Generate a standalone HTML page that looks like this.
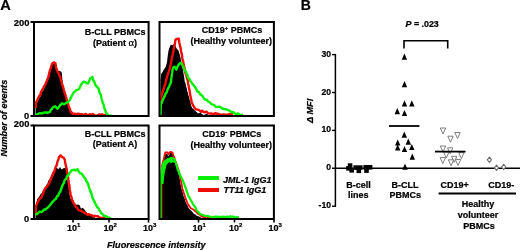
<!DOCTYPE html>
<html><head><meta charset="utf-8"><title>Figure</title>
<style>
html,body{margin:0;padding:0;background:#fff;}
body{width:520px;height:250px;overflow:hidden;}
svg{display:block;font-family:"Liberation Sans",sans-serif;will-change:transform;}
text{stroke:#000;stroke-width:0.22px;}
</style></head>
<body>
<svg width="520" height="250" viewBox="0 0 520 250">
<rect width="520" height="250" fill="#fff"/>
<text x="0.3" y="10.2" font-size="14.6" font-weight="bold">A</text>
<text x="300.8" y="10.2" font-size="14" font-weight="bold">B</text>
<defs><clipPath id="c1"><rect x="34" y="22" width="115" height="94"/></clipPath><clipPath id="c2"><rect x="159.5" y="22" width="115" height="94"/></clipPath><clipPath id="c3"><rect x="34" y="125.5" width="115" height="93.5"/></clipPath><clipPath id="c4"><rect x="159.5" y="125.5" width="115" height="93.5"/></clipPath></defs>
<g clip-path="url(#c1)">
<polygon points="35.5,117.0 35.5,115.3 35.5,113.6 35.5,113.1 35.5,110.7 35.5,110.2 35.5,108.5 35.5,106.6 35.5,106.0 36.3,103.5 37.2,102.5 38.0,100.2 38.8,98.6 39.7,97.5 40.5,96.6 41.2,93.7 41.9,92.2 42.6,91.2 43.4,90.3 44.2,88.1 45.0,86.3 45.7,85.9 46.3,82.7 47.0,82.6 47.5,80.0 48.0,78.0 48.5,76.3 49.0,75.2 49.5,74.6 50.0,71.9 50.3,71.3 50.7,70.1 51.0,68.3 51.5,67.3 51.9,65.0 52.4,63.7 54.0,63.5 55.5,65.3 55.8,66.2 56.2,67.3 56.5,69.2 58.0,70.9 59.8,70.9 61.5,72.0 61.7,73.2 61.9,73.8 62.0,75.8 62.2,77.0 62.3,79.1 62.4,80.2 62.6,80.8 62.7,83.5 62.8,83.3 63.2,85.5 63.6,87.8 64.0,88.4 64.4,90.5 64.8,91.2 65.1,93.8 65.5,95.5 65.9,96.5 66.3,98.5 66.7,98.9 67.1,101.0 67.5,102.2 68.0,103.6 68.5,104.9 69.0,107.1 69.5,108.8 70.3,109.3 71.2,111.0 72.0,111.2 73.3,113.0 74.7,113.6 76.0,114.9 77.5,115.1 79.0,114.6 80.5,115.3 82.0,116.3 82.0,117.0" fill="#000"/>
<polyline points="35.8,108.0 35.8,105.9 35.8,105.3 35.8,103.5 36.3,102.1 36.9,100.6 37.4,100.4 38.2,97.9 38.9,96.7 39.7,95.4 40.4,94.7 41.0,91.9 41.7,90.9 42.5,89.4 43.2,88.3 44.0,86.5 45.5,84.4 46.3,81.8 47.1,80.5 47.6,78.8 48.0,78.1 48.5,76.7 49.0,73.7 49.5,72.0 49.9,70.7 50.2,69.4 50.6,68.5 51.1,67.3 51.5,65.5 52.0,63.7 53.8,62.4 55.4,63.3 55.7,65.0 56.0,67.0 56.2,67.9 56.5,69.0 57.2,70.7 57.8,72.3 58.5,72.8 59.4,75.6 60.2,76.9 60.6,78.8 61.0,80.5 61.3,81.2 61.7,82.5 62.0,83.4 62.4,85.5 62.8,86.0 63.2,87.3 63.7,89.3 64.2,91.1 64.6,92.7 65.0,93.5 65.4,94.8 65.8,96.3 66.2,97.5 66.6,99.3 67.0,100.0 67.4,102.7 67.8,103.6 68.2,104.1 68.6,105.6 69.1,107.1 69.6,108.5 70.1,109.4 70.6,112.0 73.0,114.2 74.7,113.7 76.3,114.1 78.0,113.8 79.3,113.9 80.7,114.3 82.0,114.2 83.3,115.2 84.7,114.1 86.0,113.9 87.3,115.5 88.7,114.8 90.0,114.2 91.3,114.9 92.7,114.0 94.0,114.8 95.3,115.6 96.7,115.4 98.0,115.1 99.3,114.4 100.7,114.6 102.0,114.3 103.3,115.2 104.7,114.9 106.0,114.8" fill="none" stroke="#ee0c06" stroke-width="2.4" stroke-linejoin="round"/>
<polyline points="35.0,114.6 36.7,114.7 38.3,113.7 40.0,113.2 41.3,113.5 42.7,113.2 44.0,112.4 45.8,112.5 47.5,112.8 50.0,111.8 51.0,109.6 52.0,108.8 53.0,107.2 55.0,106.2 57.5,108.8 58.8,107.3 60.0,105.3 61.0,104.5 62.0,103.3 64.0,104.3 66.4,102.9 68.0,101.8 70.0,99.9 70.9,97.5 71.8,95.8 72.7,94.3 73.6,92.7 76.0,90.3 77.5,89.8 79.0,89.0 79.8,87.6 80.5,85.7 81.2,84.6 82.0,83.5 83.5,81.7 85.0,82.1 86.5,83.1 88.0,83.5 88.8,82.1 89.5,80.3 90.2,78.4 91.0,78.1 92.3,76.9 92.9,79.2 93.6,81.1 94.1,81.4 94.7,82.7 95.2,84.9 96.9,86.7 97.5,87.1 98.2,88.3 98.8,89.6 99.5,92.4 100.1,93.9 100.8,94.4 101.2,97.1 101.6,98.8 101.9,99.9 102.3,100.9 102.7,102.8 103.2,103.6 103.7,104.8 104.1,107.8 104.6,108.7 105.2,110.1 105.9,112.4 106.5,113.2 108.5,115.6 110.2,115.7 112.0,115.3" fill="none" stroke="#06f006" stroke-width="2.4" stroke-linejoin="round"/>
</g>
<g clip-path="url(#c2)">
<polygon points="160.5,117.0 160.5,115.2 160.5,113.9 160.5,112.7 160.5,111.2 160.5,110.5 160.5,108.6 160.5,107.6 160.5,105.8 160.5,105.8 160.5,103.5 160.5,102.4 160.5,101.3 160.5,100.5 160.5,98.4 160.5,97.9 160.5,95.9 160.5,94.6 160.5,93.3 160.5,91.0 160.5,90.5 160.5,88.7 160.5,87.0 160.5,87.1 160.5,84.7 160.5,83.9 160.5,83.0 160.5,81.4 160.5,79.7 160.7,78.6 160.8,77.3 161.0,76.3 161.2,73.7 162.0,72.9 163.6,69.9 165.2,67.6 165.7,66.9 166.3,64.8 166.8,63.3 167.0,62.1 167.2,60.7 167.4,58.3 167.6,57.0 167.8,55.4 168.0,54.0 168.2,52.9 168.4,51.1 168.8,49.7 169.2,48.0 169.7,47.5 170.3,45.7 170.8,44.7 172.5,45.3 174.5,43.6 175.5,45.9 176.5,48.3 177.3,49.6 178.0,49.8 178.8,51.3 179.3,53.6 179.7,54.6 180.2,56.5 180.6,57.9 181.0,60.6 181.4,62.5 181.7,64.4 182.1,64.7 182.4,67.4 182.7,69.0 183.1,69.7 183.4,72.7 183.6,74.2 183.8,74.3 184.0,77.0 184.2,77.4 184.4,79.0 184.7,81.3 185.0,82.4 185.4,82.6 185.7,84.5 186.0,86.0 186.3,87.0 186.7,88.1 187.0,89.7 187.3,91.7 187.7,91.8 188.0,94.1 188.4,95.3 188.8,95.9 189.2,97.9 189.6,99.8 190.0,101.0 190.5,101.9 191.0,105.2 191.5,106.5 192.4,108.5 193.3,108.7 195.0,110.7 196.7,112.0 198.0,113.6 199.3,113.0 200.7,113.0 202.0,113.9 203.3,114.9 204.7,114.8 206.0,114.0 207.3,113.9 208.7,115.4 210.0,114.9 211.5,115.5 213.0,114.7 214.5,114.9 216.0,116.3 216.0,117.0" fill="#000"/>
<polyline points="160.8,101.0 160.9,99.5 161.0,97.6 161.1,97.7 161.5,95.9 162.0,94.8 162.4,92.3 162.8,92.2 163.3,89.6 163.7,89.6 164.1,87.6 164.5,86.0 164.9,85.0 165.3,84.2 165.7,81.8 166.1,80.2 166.4,79.4 166.8,77.6 167.3,76.0 167.7,74.8 168.2,73.3 168.6,72.2 169.0,71.0 169.4,69.7 169.8,68.7 170.2,66.3 170.6,65.0 170.9,62.8 171.3,61.4 171.6,59.2 171.9,58.3 172.1,56.6 172.4,56.4 172.7,54.7 172.9,52.8 173.2,52.0 173.5,51.4 173.7,48.7 174.0,48.5 174.3,46.6 174.5,45.3 174.8,44.5 175.1,42.2 175.3,40.7 175.6,39.3 177.0,39.0 178.8,38.7 179.1,41.2 179.3,42.7 179.6,44.2 179.9,45.2 180.1,46.4 180.4,47.3 180.7,48.7 180.9,50.0 181.2,52.4 181.5,52.9 181.7,54.1 182.0,55.3 182.3,57.9 182.5,59.3 182.8,60.3 183.1,61.0 183.3,62.3 183.6,63.7 183.9,65.3 184.1,66.1 184.4,67.9 184.8,69.2 185.2,71.9 185.6,73.6 186.0,74.5 186.4,75.4 186.8,77.9 187.1,78.3 187.5,79.8 187.8,80.5 188.0,82.5 188.2,84.0 188.5,85.3 188.8,86.2 189.0,88.0 189.2,88.7 189.5,90.6 189.8,91.8 190.0,93.8 190.2,94.8 190.5,96.2 190.9,98.2 191.2,99.6 191.6,101.6 192.0,103.0 192.8,104.9 193.7,106.3 194.5,107.8 196.0,109.3 197.5,109.6 199.2,110.1 201.0,111.8 202.3,110.8 203.7,112.0 205.0,112.2 206.5,111.6 208.0,113.2 209.5,113.6 211.0,113.5 212.5,113.8 214.0,114.0 215.5,113.1 217.0,113.8 218.5,113.9 220.0,114.5 221.3,114.6 222.6,114.7 223.9,114.3 225.2,114.9 226.5,114.6 227.8,114.7 229.1,114.1 230.4,113.8 231.7,114.0 233.0,114.7" fill="none" stroke="#ee0c06" stroke-width="2.4" stroke-linejoin="round"/>
<polyline points="160.5,117.0 160.5,115.3 160.5,113.3 160.6,113.0 160.6,111.0 160.6,109.6 160.7,108.3 160.8,107.1 160.9,105.5 161.0,103.4 161.7,103.0 162.3,101.2 163.2,99.1 164.0,97.5 164.8,95.9 165.7,93.2 166.6,92.6 167.4,90.1 168.3,88.1 168.8,87.0 169.3,86.4 169.9,84.2 170.4,83.7 170.9,82.7 171.1,80.6 171.2,79.1 171.4,77.9 171.5,76.9 171.7,75.7 171.8,74.2 172.2,72.7 172.5,70.3 172.8,68.9 173.2,67.6 174.8,66.8 175.6,67.7 176.4,69.7 177.2,67.2 178.0,65.7 179.6,63.6 181.2,62.7 182.0,64.3 182.8,65.9 183.3,66.6 183.9,68.3 184.4,69.5 185.2,70.9 186.0,71.7 186.8,74.2 187.4,74.5 187.9,77.1 188.4,78.3 189.0,78.2 190.3,80.6 191.7,82.8 193.0,84.7 194.0,85.6 195.0,87.0 196.0,88.5 197.3,91.4 198.7,91.9 200.0,94.1 201.7,95.1 203.3,97.4 205.0,99.7 206.5,99.4 208.0,101.5 209.5,102.1 211.0,103.8 212.6,104.6 214.2,104.9 215.8,107.0 217.4,106.9 219.0,106.7 220.6,107.2 222.2,108.5 223.8,109.0 225.4,109.3 227.0,109.6 228.6,110.4 230.2,110.9 231.8,112.5 233.4,112.0 235.0,113.6 236.6,114.1 238.2,113.4 239.8,114.9 241.4,114.9 243.0,114.8" fill="none" stroke="#06f006" stroke-width="2.4" stroke-linejoin="round"/>
</g>
<g clip-path="url(#c3)">
<polygon points="35.5,220.0 35.5,219.4 35.5,217.0 35.5,215.9 35.5,214.6 35.5,214.4 35.5,212.4 35.5,210.6 35.5,209.5 35.5,207.9 35.5,206.2 35.8,204.9 36.1,204.8 36.4,202.4 36.7,202.2 37.0,199.5 38.0,198.1 39.0,197.0 40.0,194.9 40.8,193.8 41.7,193.3 42.5,191.7 43.3,190.2 44.2,188.6 45.0,187.7 45.8,186.5 46.7,184.4 47.5,183.4 48.3,180.5 49.2,180.1 50.0,177.9 50.7,177.1 51.3,175.6 52.0,173.6 53.0,171.4 54.0,171.3 55.6,168.3 57.0,167.9 58.5,169.2 60.0,167.1 61.5,169.4 63.0,168.4 64.5,168.1 66.0,168.3 66.3,169.0 66.5,170.8 66.8,171.8 66.9,172.7 67.1,174.1 67.2,175.5 67.3,178.1 67.5,178.7 67.6,179.5 67.8,182.1 68.0,183.7 68.1,184.1 68.3,185.0 68.5,186.4 68.7,187.7 68.9,189.5 69.1,190.5 69.3,192.1 69.5,193.6 69.9,195.5 70.2,197.4 70.6,198.6 71.0,199.3 72.0,201.1 73.0,203.0 74.5,203.8 76.0,204.7 77.8,204.5 79.5,205.1 81.0,208.8 82.5,207.8 84.0,209.0 86.0,211.7 88.0,213.7 89.3,213.5 90.7,214.6 92.0,215.5 93.3,216.5 94.7,217.2 96.0,218.8 96.0,220.0" fill="#000"/>
<polyline points="35.8,213.0 35.8,212.2 35.8,210.8 35.8,208.0 35.8,206.7 35.8,206.3 36.5,205.1 37.3,203.0 38.0,201.6 39.2,199.2 40.5,198.3 41.1,197.8 41.8,196.3 42.4,194.9 43.0,193.8 43.8,191.1 44.7,189.4 45.5,187.9 46.5,187.0 47.5,185.8 48.5,184.7 49.2,183.0 49.8,181.6 50.5,180.4 51.1,178.6 51.6,177.4 52.2,175.3 52.8,175.1 53.4,172.9 54.0,172.7 54.5,170.9 55.0,169.0 55.5,167.4 56.0,166.3 56.5,165.6 57.0,164.3 57.4,162.0 57.8,160.6 58.2,160.0 58.6,158.8 59.0,157.1 60.6,155.4 62.3,157.2 63.5,157.7 64.8,159.7 65.0,161.3 65.3,163.5 65.6,164.4 65.9,166.2 66.2,167.0 66.5,168.0 66.8,169.4 67.0,171.9 67.3,172.9 67.6,173.7 67.8,174.6 68.0,176.7 68.2,178.3 68.3,179.2 68.5,180.3 68.7,182.3 68.9,184.2 69.2,184.6 69.4,185.8 69.6,187.7 69.8,189.4 70.1,191.3 70.3,192.0 70.6,194.5 70.9,195.8 71.3,196.8 71.7,197.7 72.0,200.3 72.7,200.6 73.3,202.8 73.9,203.2 74.6,204.6 75.9,206.9 77.2,207.7 78.5,210.2 80.0,210.4 81.5,210.9 83.0,211.9 84.5,212.8 86.0,213.8 87.5,214.9 89.0,214.2 90.4,215.0 91.8,215.1 93.2,216.8 94.6,215.8 96.0,216.1 97.4,216.2 98.9,216.9 100.3,217.8 101.7,217.9 103.1,217.7 104.6,218.3 106.0,217.6" fill="none" stroke="#ee0c06" stroke-width="2.4" stroke-linejoin="round"/>
<polyline points="35.5,214.2 37.0,214.2 38.5,212.5 40.0,211.5 41.3,212.1 42.7,211.2 44.0,209.5 45.3,209.6 46.7,208.3 48.0,207.4 49.5,205.8 51.0,204.0 52.0,202.4 53.0,201.4 54.5,199.7 56.0,198.7 57.0,196.1 58.0,196.1 59.0,193.5 59.6,192.4 60.2,191.7 60.8,190.3 61.4,188.3 62.0,186.3 62.6,185.5 63.2,183.8 63.9,183.2 64.5,180.5 65.3,179.4 66.2,179.0 67.0,176.2 67.8,175.5 68.6,174.8 69.4,173.4 71.8,170.3 73.3,170.0 74.8,169.8 76.1,170.6 77.4,169.0 78.6,171.3 79.8,173.0 81.2,173.5 82.6,174.8 84.0,177.3 84.8,178.1 85.5,178.9 86.2,181.0 87.0,181.7 87.6,183.1 88.2,184.2 88.9,186.9 89.5,188.7 90.0,189.9 90.5,192.0 91.0,192.2 91.5,193.9 92.0,195.6 92.5,197.7 93.1,199.4 93.8,200.2 94.4,201.6 95.3,203.4 96.2,205.0 97.1,207.2 98.0,207.5 99.2,210.1 100.4,211.6 101.6,213.3 103.0,214.7 104.5,216.0 106.0,216.3 107.5,217.1 109.2,217.6 111.0,218.3" fill="none" stroke="#06f006" stroke-width="2.4" stroke-linejoin="round"/>
</g>
<g clip-path="url(#c4)">
<polygon points="161.0,220.0 161.0,219.0 161.0,216.8 161.0,215.6 161.0,215.0 161.0,213.0 161.0,211.5 161.0,210.1 161.0,209.4 161.0,207.8 161.0,207.2 161.0,205.8 161.0,204.6 161.0,202.4 161.0,200.8 161.0,199.5 161.0,198.7 161.0,197.6 161.0,195.9 161.0,194.3 161.0,193.2 161.0,192.1 161.0,190.9 161.0,189.6 161.0,188.4 161.0,186.9 161.0,184.9 161.0,184.4 161.0,182.4 161.0,181.4 161.0,179.8 161.0,179.0 161.0,177.0 161.0,175.7 161.0,174.4 161.0,172.9 161.0,172.5 161.2,170.6 161.5,168.8 161.8,167.4 162.0,166.6 162.3,164.3 162.7,162.3 163.0,161.4 163.5,159.9 163.9,158.9 164.4,156.5 164.9,155.2 165.5,153.9 167.3,153.9 168.5,156.5 170.0,152.9 172.2,153.3 173.2,155.5 173.6,157.0 174.1,159.2 174.5,160.1 175.0,162.0 175.5,162.8 176.0,164.9 176.5,165.9 176.9,167.2 177.3,169.3 177.8,171.0 178.2,171.5 178.6,173.6 178.8,174.9 179.1,175.8 179.3,177.2 179.6,178.3 179.8,179.6 180.1,181.1 180.3,182.9 180.6,184.4 180.9,185.2 181.1,186.4 181.4,188.2 181.8,190.0 182.2,190.8 182.7,192.4 183.1,193.6 183.5,195.8 183.9,196.9 184.4,197.6 184.8,199.0 185.3,200.7 185.7,202.2 186.2,203.7 187.0,204.5 187.8,206.0 188.7,208.2 189.5,209.3 191.0,210.5 192.5,212.0 194.0,214.1 195.5,214.6 197.0,216.1 198.5,216.3 200.0,216.9 201.5,217.9 203.0,218.6 203.0,220.0" fill="#000"/>
<polyline points="161.5,219.0 161.5,217.5 161.5,216.0 161.5,215.2 161.5,213.4 161.5,211.8 161.5,211.4 161.5,209.6 161.5,208.7 161.5,206.9 161.5,206.0 161.5,204.3 161.5,202.7 161.5,201.2 161.5,200.4 161.5,199.1 161.5,198.1 161.5,195.9 161.5,195.1 161.5,193.5 161.5,192.3 161.5,190.6 161.5,189.4 161.5,188.4 161.5,187.4 161.5,185.3 161.5,184.3 161.5,183.3 161.5,182.1 161.5,180.0 161.5,178.6 161.5,178.1 161.5,176.8 161.5,175.0 161.6,173.2 161.6,172.8 161.7,170.9 161.8,170.1 161.9,168.5 161.9,167.4 162.0,165.5 162.4,164.5 162.8,162.3 163.2,160.9 163.6,159.7 164.0,158.1 164.4,155.9 164.8,154.1 165.2,152.5 167.6,152.3 168.5,154.4 170.0,151.9 172.4,152.3 173.2,154.8 173.7,156.6 174.3,157.3 174.8,159.5 175.4,161.3 176.0,162.1 176.6,164.5 177.2,165.4 177.6,167.2 178.0,168.5 178.4,169.9 178.8,170.9 179.2,172.4 179.6,173.9 179.9,175.3 180.1,177.1 180.4,178.4 180.7,179.9 181.0,180.9 181.3,182.9 181.6,184.2 181.8,185.3 182.1,187.3 182.4,188.7 182.8,189.8 183.2,190.9 183.7,192.6 184.1,193.6 184.5,195.0 184.9,196.7 185.4,197.7 185.9,199.4 186.4,200.8 186.9,201.7 187.4,203.6 188.5,204.6 189.7,206.7 190.8,208.3 192.2,209.0 193.6,209.6 195.0,211.0 196.5,212.1 198.0,214.0 200.0,214.9 201.3,216.2 202.7,216.8 204.0,217.0 205.3,217.2 206.7,216.7 208.0,217.6 209.3,217.2 210.7,217.8 212.0,217.4" fill="none" stroke="#ee0c06" stroke-width="1.8" stroke-linejoin="round"/>
<polygon points="161.5,184.0 161.6,183.0 161.6,180.9 161.7,180.1 161.7,178.8 161.8,176.6 161.8,175.5 161.8,174.5 161.9,172.5 161.9,171.8 162.0,169.8 162.3,168.9 162.6,166.8 162.9,165.8 163.2,164.8 163.5,162.7 164.5,161.3 165.5,160.0 168.0,158.8 169.5,158.3 171.0,158.2 173.5,159.7 174.5,162.9 172.5,162.2 171.0,163.4 169.5,161.7 168.0,163.3 166.5,165.1 166.1,166.9 165.8,168.4 165.4,169.5 165.0,171.4 164.8,172.5 164.6,173.9 164.4,175.6 164.2,176.2 164.0,178.5 163.9,179.6 163.8,180.9 163.6,182.8 163.5,184.0" fill="#06f006"/>
<polyline points="160.6,219.0 160.6,217.5 160.6,216.9 160.6,215.2 160.6,213.6 160.6,212.7 160.6,211.1 160.6,209.5 160.6,208.8 160.6,206.8 160.6,206.2 160.6,204.4 160.6,203.4 160.6,202.5 160.6,200.8 160.6,199.5 160.6,197.9 160.6,196.3 160.6,195.0 160.6,193.8 160.6,193.0 160.6,191.5 160.6,190.2 160.6,189.3 160.6,187.2 160.6,186.0 160.6,185.2 160.7,183.2 160.8,181.8 160.9,180.9 161.0,179.3 161.1,178.2 161.2,176.7 161.3,175.8 161.5,174.4 161.6,172.7 161.7,171.8 161.9,170.3 162.0,168.6 162.3,168.1 162.7,166.1 163.0,164.6 163.8,162.8 164.5,161.6 166.0,160.4 168.0,159.3 170.0,158.4 172.0,158.0 174.0,158.7 174.9,161.0 175.8,162.7 176.2,164.1 176.7,165.9 177.2,167.3 177.6,169.4 178.2,170.8 178.9,171.9 179.5,174.2 180.2,174.9 181.1,177.1 181.9,178.7 182.8,180.2 183.3,181.4 183.8,183.4 184.3,184.0 184.8,185.8 185.3,187.5 185.8,188.0 186.3,189.6 186.8,191.5 187.4,193.0 187.9,194.6 188.4,196.3 189.2,197.1 190.0,198.7 190.8,200.2 191.6,201.3 192.7,203.8 193.7,205.2 194.8,206.7 195.5,207.3 196.3,209.5 197.0,210.7 198.5,212.1 200.0,214.0 201.3,214.5 202.7,215.0 204.0,215.6 205.5,215.9 207.0,215.8 208.5,216.3 210.0,216.8 211.4,216.8 212.9,217.0 214.3,216.9 215.7,216.5 217.1,216.8 218.6,216.7 220.0,217.1 221.4,216.8 222.9,216.6 224.3,216.9 225.7,217.3 227.1,216.5 228.6,217.2 230.0,216.3 231.5,216.6 232.9,216.6 234.4,217.1 235.9,217.4 237.3,217.2 238.8,217.0" fill="none" stroke="#06f006" stroke-width="2.2" stroke-linejoin="round"/>
</g>
<rect x="34" y="22" width="114.6" height="94" fill="none" stroke="#000" stroke-width="2"/>
<rect x="159.5" y="22" width="114.4" height="94" fill="none" stroke="#000" stroke-width="2"/>
<rect x="34" y="125.5" width="114.6" height="93.5" fill="none" stroke="#000" stroke-width="2"/>
<rect x="159.5" y="125.5" width="114.4" height="93.5" fill="none" stroke="#000" stroke-width="2"/>
<line x1="30.5" y1="22" x2="34" y2="22" stroke="#000" stroke-width="2"/>
<line x1="30.5" y1="116" x2="34" y2="116" stroke="#000" stroke-width="2"/>
<line x1="30.5" y1="125.5" x2="34" y2="125.5" stroke="#000" stroke-width="2"/>
<line x1="30.5" y1="219" x2="34" y2="219" stroke="#000" stroke-width="2"/>
<line x1="73" y1="219" x2="73" y2="222.5" stroke="#000" stroke-width="1.6"/>
<line x1="109" y1="219" x2="109" y2="222.5" stroke="#000" stroke-width="1.6"/>
<line x1="148.5" y1="219" x2="148.5" y2="222.5" stroke="#000" stroke-width="1.6"/>
<line x1="198.5" y1="219" x2="198.5" y2="222.5" stroke="#000" stroke-width="1.6"/>
<line x1="234.5" y1="219" x2="234.5" y2="222.5" stroke="#000" stroke-width="1.6"/>
<line x1="274.0" y1="219" x2="274.0" y2="222.5" stroke="#000" stroke-width="1.6"/>
<g font-size="9.4" font-weight="bold" text-anchor="end">
<text x="29.5" y="26">200</text>
<text x="29.1" y="119.2">0</text>
<text x="29.5" y="127.3">200</text>
<text x="29.1" y="221.5">0</text>
</g>
<text x="67" y="231" font-size="9" font-weight="bold">10<tspan font-size="6" dy="-3.6">1</tspan></text>
<text x="103.5" y="231" font-size="9" font-weight="bold">10<tspan font-size="6" dy="-3.6">2</tspan></text>
<text x="143" y="231" font-size="9" font-weight="bold">10<tspan font-size="6" dy="-3.6">3</tspan></text>
<text x="192.5" y="231" font-size="9" font-weight="bold">10<tspan font-size="6" dy="-3.6">1</tspan></text>
<text x="229.0" y="231" font-size="9" font-weight="bold">10<tspan font-size="6" dy="-3.6">2</tspan></text>
<text x="268.5" y="231" font-size="9" font-weight="bold">10<tspan font-size="6" dy="-3.6">3</tspan></text>
<text x="107" y="247.6" font-size="9.1" font-weight="bold" font-style="italic">Fluorescence intensity</text>
<text transform="translate(7.2,156.6) rotate(-90)" font-size="9.1" font-weight="bold" font-style="italic">Number of events</text>
<g font-size="9" font-weight="bold" text-anchor="middle">
<text x="115.2" y="35.3">B-CLL PBMCs</text>
<text x="115" y="45.5">(Patient <tspan font-family="Liberation Serif" font-weight="normal" font-size="10.5">α</tspan>)</text>
<text x="115.2" y="136.9">B-CLL PBMCs</text>
<text x="115" y="147.3">(Patient A)</text>
<text x="232.1" y="33.3">CD19<tspan font-size="6" dy="-3.5">+</tspan><tspan dy="3.5"> PBMCs</tspan></text>
<text x="231.3" y="44">(Healthy volunteer)</text>
<text x="231.8" y="137.2">CD19<tspan font-size="6" dy="-2.8">-</tspan><tspan dy="2.8"> PBMCs</tspan></text>
<text x="231.3" y="147.6">(Healthy volunteer)</text>
</g>
<rect x="198" y="176" width="21" height="4" fill="#06f006"/>
<rect x="198" y="188" width="21" height="4" fill="#ee0c06"/>
<text x="223" y="182.6" font-size="9" font-weight="bold" font-style="italic">JML-1 IgG1</text>
<text x="223.5" y="193.2" font-size="9" font-weight="bold" font-style="italic">TT11 IgG1</text>
<line x1="335.4" y1="54" x2="335.4" y2="206.7" stroke="#000" stroke-width="1.5"/>
<line x1="332" y1="54.6" x2="336" y2="54.6" stroke="#000" stroke-width="1.4"/>
<line x1="332" y1="92.5" x2="336" y2="92.5" stroke="#000" stroke-width="1.4"/>
<line x1="332" y1="130.4" x2="336" y2="130.4" stroke="#000" stroke-width="1.4"/>
<line x1="332" y1="206.2" x2="336" y2="206.2" stroke="#000" stroke-width="1.4"/>
<line x1="332" y1="168.3" x2="520" y2="168.3" stroke="#000" stroke-width="1.6"/>
<g font-size="8.6" font-weight="bold" text-anchor="end">
<text x="331" y="56.6">30</text>
<text x="331" y="94.5">20</text>
<text x="331" y="132.4">10</text>
<text x="331" y="170.3">0</text>
<text x="331" y="208.2">-10</text>
</g>
<text transform="translate(312.6,123) rotate(-90)" font-size="9.2" font-weight="bold" font-style="italic">Δ MFI</text>
<text x="405.5" y="26.6" font-size="8.9" font-weight="bold"><tspan font-style="italic">P</tspan> = .023</text>
<polyline points="404,48.5 404,40.8 447.7,40.8 447.7,48.5" fill="none" stroke="#000" stroke-width="1.6"/>
<rect x="346.2" y="166" width="4.6" height="4.6" fill="#000"/>
<rect x="347.8" y="163.3" width="4.6" height="4.6" fill="#000"/>
<rect x="349.4" y="168" width="4.6" height="4.6" fill="#000"/>
<rect x="353.4" y="165.3" width="4.6" height="4.6" fill="#000"/>
<rect x="356.5" y="168.5" width="4.6" height="4.6" fill="#000"/>
<rect x="358" y="165.3" width="4.6" height="4.6" fill="#000"/>
<rect x="363.4" y="165" width="4.6" height="4.6" fill="#000"/>
<rect x="364.2" y="168.3" width="4.6" height="4.6" fill="#000"/>
<rect x="367.8" y="165" width="4.6" height="4.6" fill="#000"/>
<polygon points="401.7,59.7 407.1,59.7 404.4,53.5" fill="#000"/>
<polygon points="401.8,87.3 407.2,87.3 404.5,81.1" fill="#000"/>
<polygon points="401.8,106.4 407.2,106.4 404.5,100.2" fill="#000"/>
<polygon points="409.1,106.4 414.5,106.4 411.8,100.2" fill="#000"/>
<polygon points="394.6,114.3 400.0,114.3 397.3,108.1" fill="#000"/>
<polygon points="401.8,116.1 407.2,116.1 404.5,109.9" fill="#000"/>
<polygon points="401.6,137.8 407.0,137.8 404.3,131.6" fill="#000"/>
<polygon points="405.6,144.7 411.0,144.7 408.3,138.5" fill="#000"/>
<polygon points="395.0,145.6 400.4,145.6 397.7,139.4" fill="#000"/>
<polygon points="395.0,150.4 400.4,150.4 397.7,144.2" fill="#000"/>
<polygon points="409.1,150.1 414.5,150.1 411.8,143.9" fill="#000"/>
<polygon points="401.8,152.1 407.2,152.1 404.5,145.9" fill="#000"/>
<polygon points="409.6,159.8 415.0,159.8 412.3,153.6" fill="#000"/>
<polygon points="402.3,169.8 407.7,169.8 405.0,163.6" fill="#000"/>
<line x1="389" y1="126" x2="419.4" y2="126" stroke="#000" stroke-width="1.8"/>
<polygon points="440.3,128.0 445.7,128.0 443.0,134.0" fill="#fff" stroke="#707070" stroke-width="0.9"/>
<polygon points="454.8,132.5 460.2,132.5 457.5,138.5" fill="#fff" stroke="#707070" stroke-width="0.9"/>
<polygon points="447.8,136.2 453.2,136.2 450.5,142.2" fill="#fff" stroke="#707070" stroke-width="0.9"/>
<polygon points="440.3,146.0 445.7,146.0 443.0,152.0" fill="#fff" stroke="#707070" stroke-width="0.9"/>
<polygon points="447.5,147.8 452.9,147.8 450.2,153.8" fill="#fff" stroke="#707070" stroke-width="0.9"/>
<polygon points="443.6,152.0 449.0,152.0 446.3,158.0" fill="#fff" stroke="#707070" stroke-width="0.9"/>
<polygon points="458.7,152.6 464.1,152.6 461.4,158.6" fill="#fff" stroke="#707070" stroke-width="0.9"/>
<polygon points="440.1,157.6 445.5,157.6 442.8,163.6" fill="#fff" stroke="#707070" stroke-width="0.9"/>
<polygon points="451.5,156.3 456.9,156.3 454.2,162.3" fill="#fff" stroke="#707070" stroke-width="0.9"/>
<polygon points="448.3,159.8 453.7,159.8 451.0,165.8" fill="#fff" stroke="#707070" stroke-width="0.9"/>
<polygon points="455.3,159.5 460.7,159.5 458.0,165.5" fill="#fff" stroke="#707070" stroke-width="0.9"/>
<line x1="435" y1="151.6" x2="465.5" y2="151.6" stroke="#000" stroke-width="1.8"/>
<polygon points="489.4,157.2 491.5,159.8 489.4,162.4 487.3,159.8" fill="#fff" stroke="#6a6a6a" stroke-width="1.05"/>
<polygon points="496.5,165.2 498.6,167.8 496.5,170.4 494.4,167.8" fill="#fff" stroke="#6a6a6a" stroke-width="1.05"/>
<polygon points="503.7,164.4 505.8,167.0 503.7,169.6 501.6,167.0" fill="#fff" stroke="#6a6a6a" stroke-width="1.05"/>
<g font-size="9" font-weight="bold" text-anchor="middle">
<text x="358.5" y="187.5">B-cell</text>
<text x="358.3" y="198.2">lines</text>
<text x="405" y="187.5">B-CLL</text>
<text x="405.2" y="198.2">PBMCs</text>
<text x="454.6" y="187.5">CD19+</text>
<text x="501.3" y="187.5">CD19-</text>
<text x="478" y="207.4">Healthy</text>
<text x="478" y="217.8">volunteer</text>
<text x="479" y="228.6">PBMCs</text>
</g>
<line x1="438.6" y1="193.4" x2="516" y2="193.4" stroke="#000" stroke-width="2"/>
</svg>
</body></html>
